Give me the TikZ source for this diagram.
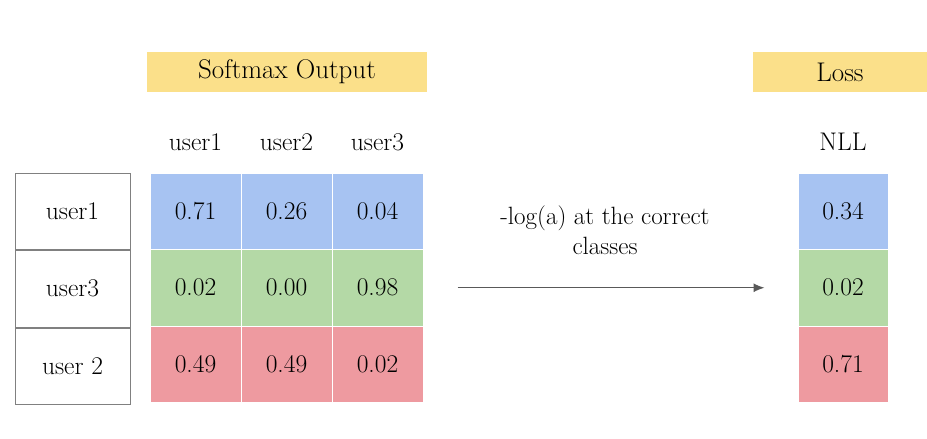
\documentclass[tikz,border=0pt]{standalone}
\usetikzlibrary{arrows.meta,positioning}

\definecolor{bannerY}{HTML}{FBE08A}
\definecolor{rowB}{HTML}{A7C3F2}
\definecolor{rowG}{HTML}{B4D9A6}
\definecolor{rowR}{HTML}{EE9AA0}

\begin{document}
\begin{tikzpicture}[x=1pt, y=-1pt, font=\fontsize{25.5}{29}\selectfont, >={Latex[length=11pt,width=9pt]},
  banner/.style={fill=bannerY, minimum height=40pt, inner sep=0pt, font=\fontsize{27}{31}\selectfont},
  cell/.style={fill=#1, draw=white, line width=1pt, minimum width=91pt, minimum height=76.5pt, inner sep=0pt},
  lbl/.style={draw=black!50, fill=white, line width=1pt, minimum width=115pt, minimum height=76.5pt, inner sep=0pt},
  flow/.style={->, draw=black!65, line width=1.2pt}]
  \useasboundingbox (0,0) rectangle (927,439);
  \node[banner, minimum width=280pt] (soft) at (287,72) {Softmax Output};
  \node[banner, minimum width=174pt] (loss) at (840,72) {Loss};
  % column headers
  \foreach \u [count=\c] in {user1,user2,user3}
    \node (h\c) at (104.5+91*\c,142) {\u};
  \node (nll) at (843,142) {NLL};
  % row labels
  \node[lbl] (r1) at (72.5,211.25) {user1};
  \node[lbl, below=0pt of r1] (r2) {user3};
  \node[lbl, below=0pt of r2] (r3) {user 2};
  % softmax cells
  \foreach \v [count=\c] in {0.71,0.26,0.04}
    \node[cell=rowB] (c1\c) at (104.5+91*\c,211.25) {\v};
  \foreach \v [count=\c] in {0.02,0.00,0.98}
    \node[cell=rowG] (c2\c) at (104.5+91*\c,287.75) {\v};
  \foreach \v [count=\c] in {0.49,0.49,0.02}
    \node[cell=rowR] (c3\c) at (104.5+91*\c,364.25) {\v};
  % loss column
  \node[cell=rowB, minimum width=90pt] (l1) at (843,211.25) {0.34};
  \node[cell=rowG, minimum width=90pt] (l2) at (843,287.75) {0.02};
  \node[cell=rowR, minimum width=90pt] (l3) at (843,364.25) {0.71};
  \draw[flow, shorten <=34pt, shorten >=33pt] (c23.east) -- (l2.west);
  \node[align=center, font=\fontsize{25}{30}\selectfont] (note) at (605,230) {-log(a) at the correct\\classes};
\end{tikzpicture}
\end{document}
